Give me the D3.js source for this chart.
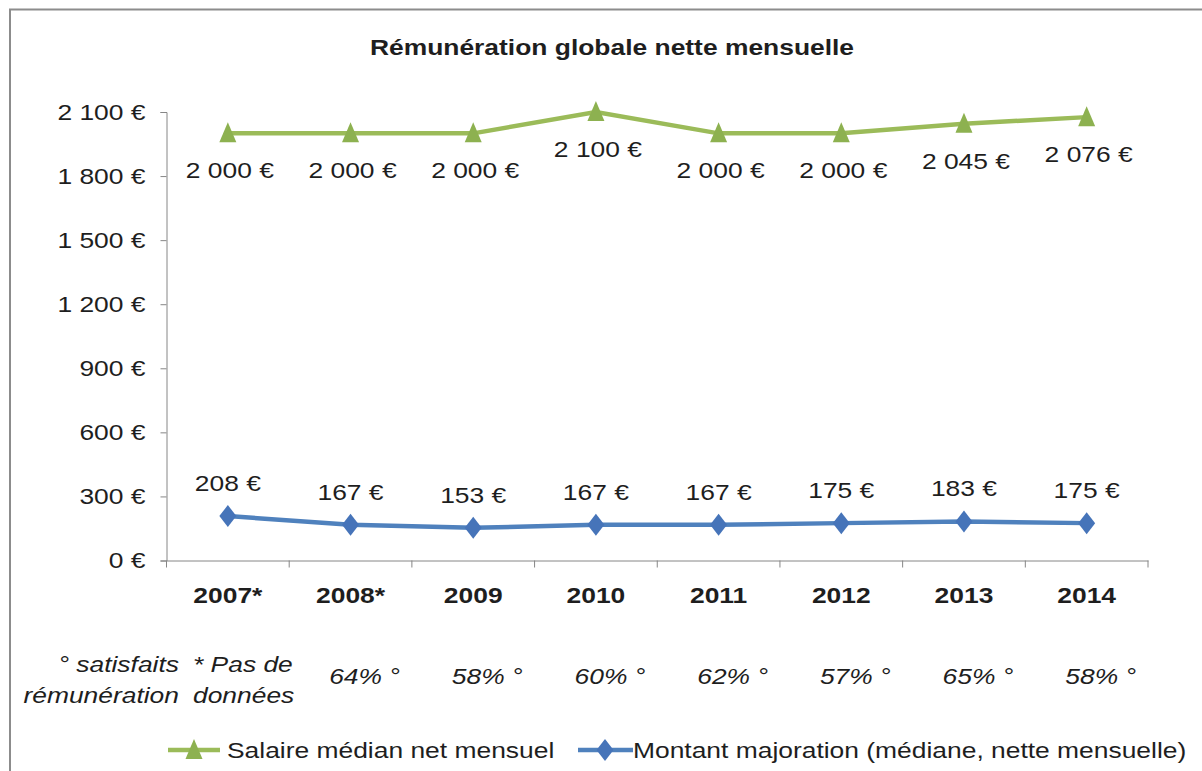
<!DOCTYPE html>
<html>
<head>
<meta charset="utf-8">
<script src="https://cdn.jsdelivr.net/npm/d3@7"></script>
<style>
  body { margin: 0; background: #fff; }
  text { font-family: Arial, "Liberation Sans", sans-serif; fill: #1e1e1e; }
</style>
</head>
<body>
<script>
// Chart dimensions
const width = 1202;
const height = 771;

// Data
const years = ["2007*", "2008*", "2009", "2010", "2011", "2012", "2013", "2014"];
const salaire = [2000, 2000, 2000, 2100, 2000, 2000, 2045, 2076];
const majoration = [208, 167, 153, 167, 167, 175, 183, 175];
const satisfaits = [null, "64%", "58%", "60%", "62%", "57%", "65%", "58%"];
const yTicks = [0, 300, 600, 900, 1200, 1500, 1800, 2100];
const title = "Rémunération globale nette mensuelle";
const seriesNames = ["Salaire médian net mensuel", "Montant majoration (médiane, nette mensuelle)"];

const green = "#9bbb59", greenMark = "#8db150";
const blue = "#4f81bd", blueMark = "#4674b9";

const euro = d => d3.format(",")(d).replace(/,/g, " ") + " €";

var svg = d3.select("body")
    .append("svg")
    .attr("width", width)
    .attr("height", height);

// Frame
svg.append("rect")
    .attr("x", 10).attr("y", 9.5)
    .attr("width", 1200).attr("height", 800)
    .attr("fill", "#fff")
    .attr("stroke", "#8c8c8c")
    .attr("stroke-width", 2);

// Scales
var x = d3.scaleBand()
    .domain(years)
    .range([166.5, 1148]);
var y = d3.scaleLinear()
    .domain([0, 2100])
    .range([560.5, 112]);
const cx = (d, i) => x(years[i]) + x.bandwidth() / 2;

// Title
svg.append("text")
    .attr("x", 612).attr("y", 55)
    .attr("text-anchor", "middle")
    .attr("font-size", 22)
    .attr("font-weight", "bold")
    .text(title);

// Y axis
var yAxis = svg.append("g")
    .attr("transform", "translate(166.5,0)")
    .call(d3.axisLeft(y).tickValues(yTicks).tickFormat(euro).tickSize(6).tickPadding(15));
yAxis.selectAll("text").attr("font-size", 22).attr("font-family", null).attr("fill", "#1e1e1e");
yAxis.selectAll("line, path").attr("stroke", "#868686");

// X axis (labels at band centres, ticks at band edges)
var xAxis = svg.append("g")
    .attr("transform", "translate(0,560.5)")
    .call(d3.axisBottom(x).tickSize(0).tickPadding(27));
xAxis.selectAll("text").attr("font-size", 22).attr("font-weight", "bold").attr("font-family", null).attr("fill", "#1e1e1e");
xAxis.select("path").attr("stroke", "#868686");
svg.append("g").selectAll("line")
    .data(years.map(d => x(d)).concat([x.range()[1]]))
    .join("line")
    .attr("x1", d => d).attr("x2", d => d)
    .attr("y1", 560.5).attr("y2", 567.5)
    .attr("stroke", "#868686");

// Lines
var line = d3.line().x(cx).y(d => y(d));
svg.append("path")
    .attr("d", line(salaire))
    .attr("fill", "none")
    .attr("stroke", green)
    .attr("stroke-width", 4.5);
svg.append("path")
    .attr("d", line(majoration))
    .attr("fill", "none")
    .attr("stroke", blue)
    .attr("stroke-width", 4.5);

// Markers
const tri = "M0,-11L8.5,9L-8.5,9Z";
const dia = "M0,-11L8.5,0L0,11L-8.5,0Z";
svg.append("g").selectAll("path")
    .data(salaire)
    .join("path")
    .attr("d", tri)
    .attr("fill", greenMark)
    .attr("transform", (d, i) => `translate(${cx(d, i)},${y(d)})`);
svg.append("g").selectAll("path")
    .data(majoration)
    .join("path")
    .attr("d", dia)
    .attr("fill", blueMark)
    .attr("transform", (d, i) => `translate(${cx(d, i)},${y(d)})`);

// Data labels
svg.append("g").selectAll("text")
    .data(salaire)
    .join("text")
    .attr("x", (d, i) => cx(d, i) + 2)
    .attr("y", d => y(d) + 45)
    .attr("text-anchor", "middle")
    .attr("font-size", 22)
    .text(euro);
svg.append("g").selectAll("text")
    .data(majoration)
    .join("text")
    .attr("x", (d, i) => cx(d, i))
    .attr("y", d => y(d) - 25)
    .attr("text-anchor", "middle")
    .attr("font-size", 22)
    .text(euro);

// Satisfaction row
var notes = svg.append("g").attr("font-size", 22).attr("font-style", "italic");
notes.selectAll("text.pct")
    .data(satisfaits.filter(d => d))
    .join("text")
    .attr("class", "pct")
    .attr("x", (d, i) => cx(d, i + 1) + 14)
    .attr("y", 684)
    .attr("text-anchor", "middle")
    .text(d => d + " °");
notes.append("text").attr("x", 179).attr("y", 672).attr("text-anchor", "end").text("° satisfaits");
notes.append("text").attr("x", 179).attr("y", 703).attr("text-anchor", "end").text("rémunération");
notes.append("text").attr("x", 193).attr("y", 672).text("* Pas de");
notes.append("text").attr("x", 193).attr("y", 703).text("données");

// Legend
var legend = svg.append("g");
legend.append("line").attr("x1", 168).attr("x2", 220).attr("y1", 750).attr("y2", 750)
    .attr("stroke", green).attr("stroke-width", 4.5);
legend.append("path").attr("d", tri).attr("fill", greenMark).attr("transform", "translate(194,750)");
legend.append("text").attr("x", 227).attr("y", 758).attr("font-size", 22).text(seriesNames[0]);
legend.append("line").attr("x1", 578).attr("x2", 633).attr("y1", 750).attr("y2", 750)
    .attr("stroke", blue).attr("stroke-width", 4.5);
legend.append("path").attr("d", dia).attr("fill", blueMark).attr("transform", "translate(605,750)");
legend.append("text").attr("x", 633).attr("y", 758).attr("font-size", 22).text(seriesNames[1]);

// The source picture is stretched horizontally: widen all text the same way
svg.selectAll("text").each(function() {
    var w = this.getComputedTextLength();
    d3.select(this).attr("textLength", w * 1.2).attr("lengthAdjust", "spacingAndGlyphs");
});
</script>
</body>
</html>
